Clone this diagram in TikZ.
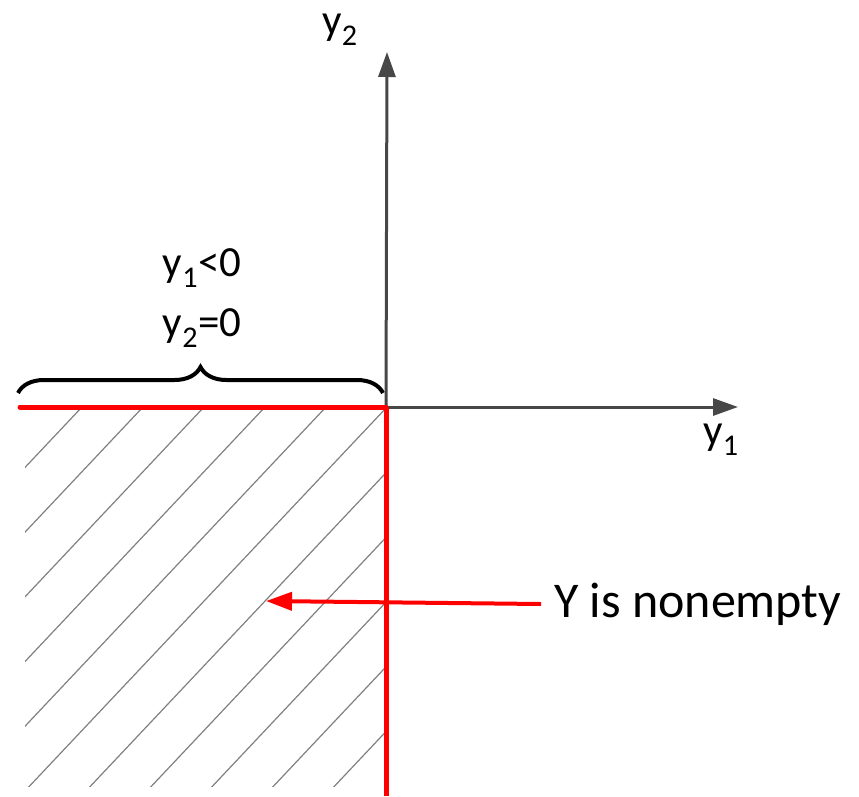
\documentclass[tikz,border=0pt]{standalone}
\usepackage{fontspec}
\setmainfont{Carlito}
\usetikzlibrary{arrows.meta,decorations.pathreplacing}
\begin{document}
\begin{tikzpicture}[x=1pt,y=-1pt,
  axisline/.style={draw=black!72,line width=3pt},
  redline/.style={draw=red,line width=5pt},
  hatchline/.style={draw=black!50,line width=1.2pt},
  lbl/.style={font=\fontsize{43}{47}\selectfont,inner sep=0pt},
  bigl/.style={font=\fontsize{50}{54}\selectfont,inner sep=0pt}]
\useasboundingbox (0,0) rectangle (859,796);
\coordinate (O) at (386,407);
\coordinate (ytop) at (387,52);
\coordinate (xend) at (738,407);
\coordinate (lend) at (20,407);
\coordinate (bend) at (386,796);
\coordinate (tip) at (266,601);
% hatch
\begin{scope}
\clip (25,407) rectangle (386,786);
\foreach \k in {0,...,11} {
  \pgfmathsetmacro{\xk}{82+61*\k}
  \draw[hatchline] (\xk,407) -- ++(-380,403);
}
\end{scope}
% axes
\draw[axisline,-{Triangle[length=25pt,width=17pt]}] (O) -- (ytop);
\draw[axisline,-{Triangle[length=25pt,width=17pt]}] (O) -- (xend);
% red boundary
\draw[redline,line cap=round] (lend) -- (O);
\draw[redline] (O) -- (bend);
% brace
\draw[line width=4pt,decorate,decoration={brace,amplitude=26pt}] (18,393) -- (383,393);
% labels
\node[lbl] (ly2) at (340,30) {y\textsubscript{2}};
\node[lbl] (ly1) at (721,440) {y\textsubscript{1}};
\node[lbl] (c1) at (202,268) {y\textsubscript{1}<0};
\node[lbl] (c2) at (202,328) {y\textsubscript{2}=0};
\node[bigl,anchor=west] (ne) at (554,604) {Y is nonempty};
\draw[draw=red,line width=4pt,-{Triangle[length=26pt,width=18pt]}] ([xshift=-13pt]ne.west) -- (tip);
\end{tikzpicture}
\end{document}
